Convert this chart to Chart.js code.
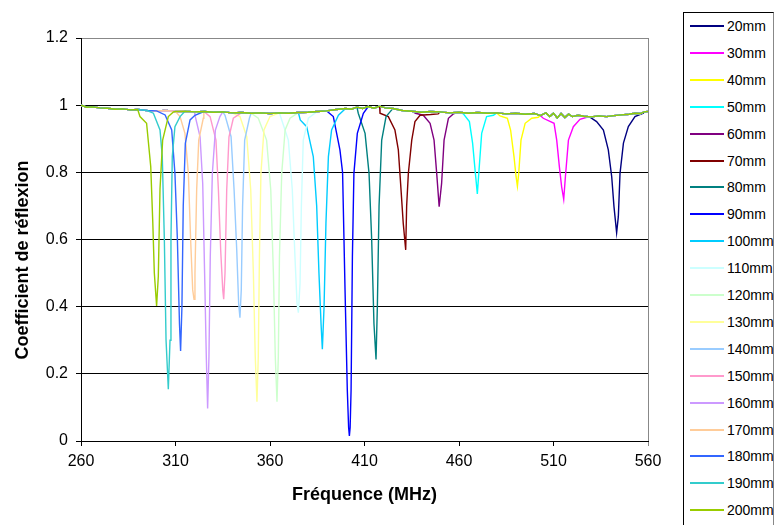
<!DOCTYPE html>
<html>
<head>
<meta charset="utf-8">
<script src="https://cdn.jsdelivr.net/npm/chart.js@4/dist/chart.umd.min.js"></script>
<style>
  html, body { margin: 0; padding: 0; background: #fff; overflow: hidden; }
  #wrap { position: relative; width: 775px; height: 525px; }
  #c { position: absolute; left: 0; top: 0; }
  #legend { position: absolute; left: 683px; top: 12px; width: 91px; height: 525px;
            border: 1px solid #000; border-right-color: #888; box-sizing: border-box; background: #fff; }
  .item { position: absolute; left: 0; height: 16px; width: 100%; }
  .item .ln { position: absolute; left: 6px; top: 7px; width: 34px; height: 2px; display: block; }
  .item .tx { position: absolute; left: 43px; top: 0; font: 14px "Liberation Sans", Arial, sans-serif; line-height: 16px; color: #000; white-space: nowrap; }
</style>
</head>
<body>
<div id="wrap">
  <canvas id="c" width="775" height="525"></canvas>
  <div id="legend"></div>
</div>
<script>
// ---- data ----
const seriesNames = ['20mm','30mm','40mm','50mm','60mm','70mm','80mm','90mm','100mm','110mm',
                     '120mm','130mm','140mm','150mm','160mm','170mm','180mm','190mm','200mm'];
const seriesColors = ['#000080','#FF00FF','#FFFF00','#00FFFF','#800080','#800000','#008080','#0000FF','#00CCFF','#CCFFFF',
                      '#CCFFCC','#FFFF99','#99CCFF','#FF99CC','#CC99FF','#FFCC99','#3366FF','#33CCCC','#99CC00'];
const xTicks = [260, 310, 360, 410, 460, 510, 560];
const yTicks = [0, 0.2, 0.4, 0.6, 0.8, 1, 1.2];
const xTitle = 'Fréquence (MHz)';
const yTitle = 'Coefficient de réflexion';

// common off-resonance level (MHz, coefficient)
const baseFreq = [260, 263, 266, 270, 274, 278, 282, 286, 290, 295, 300, 305, 310, 315, 320, 325, 330, 335, 340, 345,
                  350, 355, 360, 365, 370, 375, 380, 385, 390, 395, 400, 403, 406, 409, 412, 415, 418, 421, 425, 430,
                  435, 440, 445, 450, 455, 460, 465, 470, 475, 480, 485, 490, 495, 500, 503, 506, 508, 510, 512, 514,
                  516, 518, 520, 523, 526, 530, 534, 538, 542, 546, 550, 553, 556, 558, 560];
const baseVal  = [1.000, 0.994, 0.995, 0.992, 0.991, 0.988, 0.989, 0.986, 0.987, 0.984, 0.983, 0.984, 0.981, 0.982, 0.980, 0.981, 0.979, 0.980, 0.977, 0.978,
                  0.976, 0.977, 0.975, 0.977, 0.976, 0.978, 0.979, 0.981, 0.983, 0.987, 0.990, 0.988, 0.994, 0.990, 0.996, 0.991, 0.997, 0.992, 0.990, 0.984,
                  0.982, 0.979, 0.981, 0.980, 0.977, 0.979, 0.976, 0.978, 0.976, 0.977, 0.974, 0.976, 0.973, 0.975, 0.969, 0.977, 0.966, 0.976, 0.962, 0.975,
                  0.963, 0.973, 0.966, 0.970, 0.967, 0.965, 0.968, 0.966, 0.969, 0.971, 0.973, 0.976, 0.975, 0.980, 0.981];

// resonance dips [MHz, coefficient]
const mm20  = [[529.3,.964],[532.8,.951],[536.4,.926],[539,.867],[540.8,.787],[542,.698],[543.4,.620],[544.3,.668],[545.2,.797],[547,.887],[549.6,.936],[553.1,.966],[557.5,.976]];
const mm30  = [[504.6,.961],[510.3,.946],[511.7,.896],[513.1,.817],[514.3,.757],[515.4,.720],[516.3,.787],[517.9,.896],[520.5,.936],[524,.958],[527.6,.964]];
const mm40  = [[481.7,.968],[485.6,.961],[487.3,.926],[489.1,.847],[490.2,.787],[490.9,.759],[491.6,.797],[492.8,.896],[495,.946],[498.5,.961],[502,.964]];
const mm50  = [[462.3,.974],[465.5,.951],[467.2,.887],[468.5,.807],[469.7,.736],[470.6,.807],[472,.916],[474.6,.966],[478.2,.970]];
const mm60  = [[437,.976],[441.1,.970],[444.7,.946],[446.8,.896],[448.2,.797],[449.5,.698],[450.8,.767],[452.1,.896],[454.4,.961],[457,.974]];
const mm70  = [[418.2,.976],[422.6,.966],[426.1,.926],[427.9,.867],[429.1,.767],[430.5,.648],[431.8,.569],[432.3,.700],[433.2,.797],[435,.896],[436.7,.951],[439.4,.970],[445,.972],[449,.974]];
const mm80  = [[406.7,.976],[410.3,.916],[412.4,.797],[413.8,.600],[415,.350],[416.1,.243],[416.8,.400],[417.7,.700],[419.1,.896],[421.4,.966],[423.5,.980]];
const mm90  = [[393.5,.966],[397,.867],[398.4,.800],[399.7,.450],[400.9,.152],[401.6,.040],[402,.015],[402.4,.040],[402.9,.152],[403.6,.549],[404.4,.797],[406.2,.916],[409.4,.976]];
const mm100 = [[376,.956],[379.4,.936],[382.9,.847],[384.7,.700],[385.9,.500],[387,.350],[387.7,.273],[388.6,.400],[389.6,.648],[390.9,.847],[392.6,.926],[396.2,.970]];
const mm110 = [[366.2,.956],[369.7,.896],[371.8,.748],[373.2,.549],[374.3,.410],[375,.382],[375.9,.470],[376.6,.700],[377.6,.896],[380.3,.961]];
const mm120 = [[353.8,.961],[358.2,.896],[360.4,.748],[361.8,.500],[362.8,.251],[363.7,.117],[364.4,.251],[365,.549],[366.2,.797],[368,.926],[370.6,.961]];
const mm130 = [[344.1,.966],[347.7,.906],[349.8,.748],[351.2,.500],[352.2,.251],[353.1,.117],[353.8,.251],[354.4,.549],[355.2,.797],[356.8,.926],[360,.966]];
const mm140 = [[336.2,.970],[339.4,.906],[341,.748],[342.4,.569],[343.4,.410],[344.1,.367],[344.8,.450],[345.5,.700],[346.6,.896],[349.1,.961]];
const mm150 = [[328.3,.966],[331.4,.896],[332.7,.748],[333.9,.569],[335,.450],[335.5,.422],[336.2,.500],[337.1,.748],[338.3,.906],[340.6,.961]];
const mm160 = [[320.3,.970],[323,.906],[324.4,.767],[325.4,.500],[326.3,.251],[327,.097],[327.7,.251],[328.4,.549],[329.5,.797],[331.1,.926],[333.5,.966]];
const mm170 = [[312.4,.966],[315,.916],[316.8,.797],[318,.600],[319.1,.450],[319.8,.422],[320.3,.500],[321.2,.748],[322.3,.896],[324.7,.961]];
const mm180 = [[304.5,.971],[308,.926],[309.7,.797],[311,.600],[312.1,.350],[312.7,.268],[313.4,.400],[314.1,.700],[315.2,.886],[317.7,.956],[320.3,.970]];
const mm190 = [[298.3,.976],[301.8,.926],[303,.847],[304.1,.600],[305,.300],[306.2,.154],[307.1,.300],[307.6,.600],[308.3,.847],[309.7,.936],[312.4,.966]];
const mm200 = [[291.2,.966],[294.7,.946],[296.9,.817],[298,.648],[298.8,.500],[300,.402],[300.9,.490],[301.8,.750],[303.2,.896],[306.2,.966],[308.9,.980]];

const dips = [mm20, mm30, mm40, mm50, mm60, mm70, mm80, mm90, mm100, mm110,
              mm120, mm130, mm140, mm150, mm160, mm170, mm180, mm190, mm200];

// ---- build datasets ----
function buildSeries(dip) {
  const f0 = dip[0][0], f1 = dip[dip.length - 1][0];
  const pts = [];
  baseFreq.forEach((f, i) => { if (f < f0) pts.push({x: f, y: baseVal[i]}); });
  dip.forEach(p => pts.push({x: p[0], y: p[1]}));
  baseFreq.forEach((f, i) => { if (f > f1) pts.push({x: f, y: baseVal[i]}); });
  return pts;
}

const datasets = seriesNames.map((name, i) => ({
  label: name,
  data: buildSeries(dips[i]),
  borderColor: seriesColors[i],
  backgroundColor: seriesColors[i],
  borderWidth: 1.4,
  pointRadius: 0,
  tension: 0,
  fill: false,
  order: seriesNames.length - i
}));

// ---- HTML legend ----
const lg = document.getElementById('legend');
seriesNames.forEach((name, i) => {
  const it = document.createElement('div');
  it.className = 'item';
  it.style.top = (5 + i * 26.9) + 'px';
  const ln = document.createElement('div'); ln.className = 'ln'; ln.style.background = seriesColors[i];
  const tx = document.createElement('span'); tx.className = 'tx'; tx.textContent = name;
  it.appendChild(ln); it.appendChild(tx); lg.appendChild(it);
});

const FONT = "'Liberation Sans', Arial, sans-serif";

// y-axis title, centred like the reference (on the full chart height)
const yTitlePlugin = {
  id: 'yTitle',
  afterDraw(chart) {
    const ctx = chart.ctx;
    ctx.save();
    ctx.translate(23, 260);
    ctx.rotate(-Math.PI / 2);
    ctx.font = 'bold 18px ' + FONT;
    ctx.fillStyle = '#000';
    ctx.textAlign = 'center';
    ctx.textBaseline = 'middle';
    ctx.fillText(yTitle, 0, 0);
    ctx.restore();
  }
};

new Chart(document.getElementById('c'), {
  type: 'line',
  data: { datasets },
  plugins: [yTitlePlugin],
  options: {
    responsive: false,
    devicePixelRatio: 1,
    animation: false,
    layout: { padding: { left: 0, top: 38, right: 127, bottom: 0 } },
    plugins: { legend: { display: false }, tooltip: { enabled: false } },
    scales: {
      x: {
        type: 'linear', min: 260, max: 560,
        afterBuildTicks: s => { s.ticks = xTicks.map(v => ({value: v})); },
        afterFit: s => { s.height = 84; },
        ticks: { color: '#000', font: { family: FONT, size: 16 }, padding: 6, maxRotation: 0 },
        grid: {
          color: c => (c.tick && c.tick.value === 560) ? '#888' : 'rgba(0,0,0,0)',
          tickColor: c => (c.tick && c.tick.value === 560) ? '#888' : '#000',
          tickLength: 5, lineWidth: 1
        },
        border: { color: '#000', width: 1 },
        title: { display: true, text: xTitle, color: '#000',
                 font: { family: FONT, size: 18, weight: 'bold', lineHeight: 1.2 },
                 padding: { top: 0, bottom: 19 } }
      },
      y: {
        type: 'linear', min: 0, max: 1.2,
        afterBuildTicks: s => { s.ticks = yTicks.map(v => ({value: v})); },
        afterFit: s => { s.width = 81; },
        ticks: { color: '#000', font: { family: FONT, size: 16 }, padding: 8,
                 callback: v => String(Math.round(v * 10) / 10) },
        grid: {
          color: c => (c.tick && Math.abs(c.tick.value - 1.2) < 1e-6) ? '#888' : '#000',
          tickColor: '#000',
          tickLength: 5, lineWidth: 1
        },
        border: { color: '#000', width: 1 },
        title: { display: false }
      }
    }
  }
});
</script>
</body>
</html>
